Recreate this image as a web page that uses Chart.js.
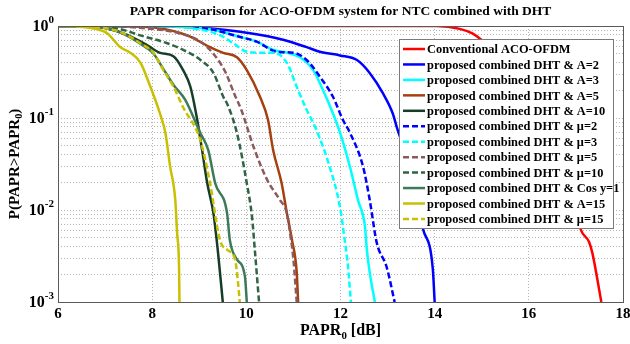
<!DOCTYPE html>
<html>
<head>
<meta charset="utf-8">
<script src="https://cdn.jsdelivr.net/npm/chart.js@4.4.1/dist/chart.umd.min.js"></script>
<style>
  html, body { margin: 0; padding: 0; background: #fff; }
</style>
</head>
<body>
<canvas id="papr" width="630" height="344"></canvas>
<script>
const chartTitle = "PAPR comparison for ACO-OFDM system for NTC combined with DHT";
const xTickValues = [6, 8, 10, 12, 14, 16, 18];
const yTickExponents = [0, -1, -2, -3];

const seriesLabels = [
  "Conventional ACO-OFDM",
  "proposed combined DHT & A=2",
  "proposed combined DHT & A=3",
  "proposed combined DHT & A=5",
  "proposed combined DHT & A=10",
  "proposed combined DHT & μ=2",
  "proposed combined DHT & μ=3",
  "proposed combined DHT & μ=5",
  "proposed combined DHT & μ=10",
  "proposed combined DHT & Cos y=1",
  "proposed combined DHT & A=15",
  "proposed combined DHT & μ=15"
];

// PAPR0 [dB] and CCDF values
const convX = [6, 13.0, 14.04, 14.53, 14.8, 14.99, 15.5, 16.0, 16.5, 16.9, 17.11, 17.28, 17.35, 17.54];
const convY = [1, 1, 0.998, 0.93, 0.83, 0.708, 0.4, 0.16, 0.05, 0.016, 0.006, 0.0045, 0.0034, 0.001];

const a2X = [6, 8.0, 9.02, 10.08, 10.78, 11.28, 11.56, 11.99, 12.35, 12.62, 12.9, 13.11, 13.2, 13.45, 13.6, 13.75, 13.96, 14.0];
const a2Y = [1, 0.998, 0.955, 0.832, 0.708, 0.589, 0.525, 0.479, 0.427, 0.309, 0.186, 0.112, 0.078, 0.032, 0.014, 0.0063, 0.0023, 0.001];

const a3X = [6, 8.0, 9.3, 9.73, 10.22, 10.57, 10.86, 11.14, 11.42, 11.63, 11.84, 11.99, 12.2, 12.37, 12.52, 12.56, 12.62, 12.73];
const a3Y = [1, 0.995, 0.912, 0.794, 0.676, 0.55, 0.513, 0.457, 0.331, 0.2, 0.112, 0.0692, 0.0295, 0.0129, 0.0066, 0.0037, 0.0021, 0.001];

const a5X = [6, 7.4, 8.1, 8.74, 9.23, 9.51, 9.8, 10.01, 10.29, 10.46, 10.57, 10.75, 10.86, 10.97, 11.07, 11.1];
const a5Y = [1, 0.995, 0.955, 0.79, 0.59, 0.51, 0.457, 0.331, 0.17, 0.0955, 0.0447, 0.0195, 0.0093, 0.0047, 0.0021, 0.001];

const a10X = [6, 6.6, 7.0, 7.47, 7.89, 8.17, 8.45, 8.66, 8.81, 8.95, 9.06, 9.17, 9.3, 9.4, 9.5];
const a10Y = [1, 0.99, 0.95, 0.8, 0.62, 0.51, 0.47, 0.33, 0.22, 0.1, 0.045, 0.0195, 0.0093, 0.0034, 0.001];

const mu2X = [6, 8.2, 9.2, 9.87, 10.22, 10.65, 10.99, 11.28, 11.56, 11.84, 12.05, 12.2, 12.48, 12.62, 12.77, 12.98, 13.15];
const mu2Y = [1, 0.995, 0.93, 0.759, 0.676, 0.525, 0.513, 0.427, 0.282, 0.17, 0.0955, 0.0692, 0.0295, 0.0129, 0.0044, 0.0024, 0.001];

const mu3X = [6, 7.8, 8.8, 9.44, 9.73, 10.01, 10.29, 10.57, 10.86, 11.07, 11.28, 11.49, 11.77, 11.99, 12.09, 12.16, 12.22];
const mu3Y = [1, 0.995, 0.95, 0.794, 0.646, 0.525, 0.513, 0.513, 0.398, 0.219, 0.123, 0.074, 0.0295, 0.0107, 0.0047, 0.0024, 0.001];

const mu5X = [6, 7.2, 7.8, 8.6, 9.0, 9.3, 9.55, 9.75, 9.9, 10.15, 10.44, 10.71, 10.86, 10.93, 11.0, 11.07];
const mu5Y = [1, 0.99, 0.95, 0.83, 0.69, 0.5, 0.32, 0.18, 0.12, 0.049, 0.0214, 0.0129, 0.0093, 0.0056, 0.0029, 0.001];

const mu10X = [6, 6.8, 7.3, 7.75, 8.32, 8.66, 9.02, 9.3, 9.51, 9.6, 9.8, 10.01, 10.12, 10.18, 10.27];
const mu10Y = [1, 0.99, 0.93, 0.79, 0.65, 0.55, 0.43, 0.31, 0.17, 0.14, 0.069, 0.0195, 0.0085, 0.0037, 0.001];

const cosX = [6, 6.6, 7.0, 7.39, 7.75, 8.03, 8.24, 8.45, 8.7, 9.02, 9.19, 9.34, 9.59, 9.65, 9.8, 9.97, 10.01];
const cosY = [1, 0.99, 0.95, 0.82, 0.64, 0.5, 0.34, 0.23, 0.158, 0.069, 0.045, 0.0195, 0.0093, 0.0047, 0.0029, 0.0019, 0.001];

const a15X = [6, 6.4, 6.8, 7.05, 7.32, 7.54, 7.75, 7.96, 8.17, 8.28, 8.38, 8.49, 8.53, 8.57, 8.58];
const a15Y = [1, 0.99, 0.93, 0.83, 0.59, 0.51, 0.4, 0.22, 0.11, 0.069, 0.03, 0.013, 0.0056, 0.0025, 0.001];

const mu15X = [6, 6.6, 7.0, 7.39, 7.75, 8.03, 8.24, 8.45, 8.66, 9.02, 9.23, 9.44, 9.59, 9.76, 9.82, 9.86];
const mu15Y = [1, 0.99, 0.95, 0.83, 0.65, 0.51, 0.33, 0.22, 0.13, 0.058, 0.0195, 0.0047, 0.0037, 0.0029, 0.0017, 0.001];

const seriesX = [convX, a2X, a3X, a5X, a10X, mu2X, mu3X, mu5X, mu10X, cosX, a15X, mu15X];
const seriesY = [convY, a2Y, a3Y, a5Y, a10Y, mu2Y, mu3Y, mu5Y, mu10Y, cosY, a15Y, mu15Y];

const lineColors = ["#ff0000", "#0000ff", "#00ffff", "#a5410f", "#173d28", "#0000ff",
  "#00ffff", "#8c5a5a", "#2f6444", "#3d7a5a", "#c8c000", "#c8c000"];
const dashed = [false, false, false, false, false, true, true, true, true, false, false, true];

const SERIF = '"Liberation Serif", "Times New Roman", serif';

// log grid: 1..9 in each decade
const yGrid = [];
for (let e = -3; e < 0; e++) {
  for (let k = 1; k < 10; k++) yGrid.push(k * Math.pow(10, e));
}
yGrid.push(1);

const datasets = seriesLabels.map((label, i) => ({
  label: label,
  data: seriesX[i].map((x, j) => ({ x: x, y: seriesY[i][j] })),
  borderColor: lineColors[i],
  backgroundColor: lineColors[i],
  borderWidth: 2.5,
  borderDash: dashed[i] ? [6, 3] : [],
  pointRadius: 0,
  cubicInterpolationMode: "monotone",
  fill: false,
  order: seriesLabels.length - i
}));

function drawParts(ctx, parts, x, y, size) {
  // parts: [text, shift] shift 0 normal, 1 sub, -1 super
  let total = 0;
  parts.forEach(p => {
    ctx.font = "bold " + (p[1] ? size * 0.68 : size) + "px " + SERIF;
    total += ctx.measureText(p[0]).width;
  });
  let cx = x - total / 2;
  parts.forEach(p => {
    ctx.font = "bold " + (p[1] ? size * 0.68 : size) + "px " + SERIF;
    ctx.fillText(p[0], cx, y + p[1] * size * 0.3);
    cx += ctx.measureText(p[0]).width;
  });
}

const decorations = {
  id: "decorations",
  afterDraw(chart) {
    const ctx = chart.ctx;
    const a = chart.chartArea;
    const xs = chart.scales.x;
    const ys = chart.scales.y;
    ctx.save();

    // axes box
    ctx.strokeStyle = "#5a5a5a";
    ctx.lineWidth = 1;
    ctx.setLineDash([]);
    ctx.strokeRect(Math.round(a.left) + 0.5, Math.round(a.top) + 0.5,
      Math.round(a.right - a.left), Math.round(a.bottom - a.top));

    ctx.fillStyle = "#000";
    ctx.textBaseline = "middle";

    // x tick labels
    ctx.textAlign = "center";
    ctx.font = "bold 15px " + SERIF;
    xTickValues.forEach(v => {
      ctx.fillText(String(v), xs.getPixelForValue(v), a.bottom + 12);
    });

    // y tick labels 10^e
    yTickExponents.forEach(e => {
      const py = ys.getPixelForValue(Math.pow(10, e));
      ctx.font = "bold 11px " + SERIF;
      const sup = String(e);
      const sw = ctx.measureText(sup).width;
      ctx.textAlign = "left";
      ctx.fillText(sup, a.left - 4 - sw, py - 6);
      ctx.font = "bold 16px " + SERIF;
      ctx.textAlign = "right";
      ctx.fillText("10", a.left - 4 - sw, py + 1);
    });

    // titles
    ctx.textAlign = "left";
    drawParts(ctx, [["PAPR", 0], ["0", 1], [" [dB]", 0]], (a.left + a.right) / 2, 331, 16);
    ctx.save();
    ctx.translate(15, (a.top + a.bottom) / 2);
    ctx.rotate(-Math.PI / 2);
    drawParts(ctx, [["P(PAPR>PAPR", 0], ["0", 1], [")", 0]], 0, 0, 15);
    ctx.restore();
    ctx.font = "bold 13.5px " + SERIF;
    ctx.textAlign = "center";
    ctx.fillText(chartTitle, (a.left + a.right) / 2, 12);

    // legend inside the axes
    const lx = 399, ly = 39, lw = 214, lh = 189;
    ctx.fillStyle = "#fff";
    ctx.fillRect(lx, ly, lw, lh);
    ctx.strokeStyle = "#7a7a7a";
    ctx.strokeRect(lx + 0.5, ly + 0.5, lw, lh);
    ctx.textAlign = "left";
    ctx.font = "bold 12.4px " + SERIF;
    chart.data.datasets.forEach((ds, i) => {
      const cy = ly + 10 + i * 15.45;
      ctx.strokeStyle = ds.borderColor;
      ctx.lineWidth = 2.5;
      ctx.setLineDash(ds.borderDash);
      ctx.beginPath();
      ctx.moveTo(lx + 4, cy);
      ctx.lineTo(lx + 26, cy);
      ctx.stroke();
      ctx.setLineDash([]);
      ctx.fillStyle = "#000";
      ctx.fillText(ds.label, lx + 28, cy + 1);
    });
    ctx.restore();
  }
};

new Chart(document.getElementById("papr").getContext("2d"), {
  type: "line",
  data: { datasets: datasets },
  options: {
    responsive: false,
    animation: false,
    layout: { padding: { left: 58, right: 7, top: 26, bottom: 42 } },
    plugins: {
      legend: { display: false },
      title: { display: false },
      tooltip: { enabled: false }
    },
    scales: {
      x: {
        type: "linear",
        min: 6,
        max: 18,
        afterBuildTicks: s => { s.ticks = xTickValues.map(v => ({ value: v })); },
        ticks: { display: false },
        grid: { color: "#b4b4b4", lineWidth: 1, drawTicks: false },
        border: { display: false, dash: [1, 2] }
      },
      y: {
        type: "logarithmic",
        min: 0.001,
        max: 1,
        afterBuildTicks: s => { s.ticks = yGrid.map(v => ({ value: v })); },
        ticks: { display: false },
        grid: { color: "#b4b4b4", lineWidth: 1, drawTicks: false },
        border: { display: false, dash: [1, 2] }
      }
    }
  },
  plugins: [decorations]
});
</script>
</body>
</html>
